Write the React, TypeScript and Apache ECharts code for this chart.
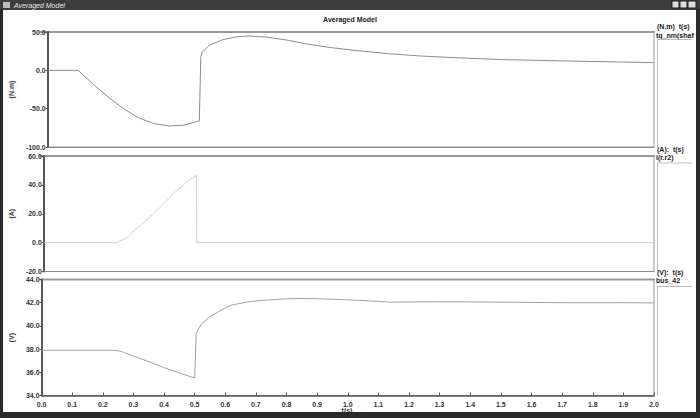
import React, { useEffect, useRef } from "react";
import * as echarts from "echarts";

// ---- data ----
const torqueT = [0, 0.1, 0.15, 0.2, 0.25, 0.3, 0.35, 0.4, 0.45, 0.49, 0.5, 0.505, 0.51, 0.533, 0.577, 0.62, 0.663, 0.718, 0.793, 0.848, 0.935, 1.01, 1.12, 1.23, 1.337, 1.5, 1.7, 1.9, 2.0];
const torqueV = [0, 0, -18, -35, -50, -62, -69.5, -72.5, -71.5, -67, -66, 18, 24, 32.6, 40, 43.5, 44.8, 43.5, 39.2, 34.8, 29.6, 26.1, 21.8, 18.7, 16.6, 14, 12.3, 10.8, 10];

const currentT = [0, 0.24, 0.27, 0.3, 0.33, 0.36, 0.4, 0.425, 0.45, 0.468, 0.5, 0.501, 2.0];
const currentV = [0, 0, 3, 9, 14.5, 20, 28.5, 34, 38.5, 42, 46.5, 0, 0];

const voltT = [0, 0.24, 0.26, 0.3, 0.36, 0.4, 0.45, 0.5, 0.505, 0.51, 0.523, 0.55, 0.6, 0.62, 0.67, 0.718, 0.8, 0.848, 0.95, 1.04, 1.14, 1.3, 1.5, 1.7, 1.9, 2.0];
const voltV = [37.9, 37.9, 37.8, 37.4, 36.83, 36.4, 35.95, 35.5, 39.3, 39.6, 40.2, 40.8, 41.55, 41.8, 42.05, 42.2, 42.33, 42.37, 42.3, 42.2, 42.05, 42.08, 42.05, 42.0, 42.0, 41.98];

const chartTitle = "Averaged Model";
const yNames = ["(N.m)", "(A)", "(V)"];
const legendHeads = ["(N.m)  t(s)", "(A):  t(s)", "(V):  t(s)"];
const legendNames = ["tq_nm(shaf", "i(r.r2)", "bus_42"];
const yRanges = [
  [-100, 50, 50],
  [-20, 60, 20],
  [34, 44, 2],
];

const zip = (a: number[], b: number[]) => a.map((t, i) => [t, b[i]]);

export default function App() {
  const ref = useRef<HTMLDivElement>(null);
  useEffect(() => {
    if (!ref.current) return;
    const chart = echarts.init(ref.current, null, { renderer: "svg" });
    const L = 39.5;
    const R = 654;
    const grids = [
      { top: 32, bottom: 147 },
      { top: 156, bottom: 271.5 },
      { top: 279.5, bottom: 395.5 },
    ];
    const labelFont = { fontSize: 7, fontWeight: "bold" as const, color: "#333", fontFamily: "Arial, Liberation Sans, sans-serif" };
    const series = [zip(torqueT, torqueV), zip(currentT, currentV), zip(voltT, voltV)];
    const colors = ["#8c8c8c", "#d0d0d0", "#a0a0a0"];
    const graphics: any[] = [
      // title bar
      { type: "rect", shape: { x: 0, y: 0, width: 700, height: 10 }, style: { fill: "#3c3c3c" }, z: 10 },
      { type: "text", x: 14, y: 5, style: { text: "Averaged Model", fill: "#e8e8e8", fontSize: 7, fontStyle: "italic", fontFamily: "Arial, sans-serif", verticalAlign: "middle" }, z: 11 },
      { type: "rect", shape: { x: 3, y: 2, width: 7, height: 6 }, style: { fill: "#bbb" }, z: 11 },
      { type: "rect", shape: { x: 672, y: 1, width: 7, height: 7 }, style: { fill: "#ddd", stroke: "#222" }, z: 11 },
      { type: "rect", shape: { x: 680, y: 1, width: 7, height: 7 }, style: { fill: "#ddd", stroke: "#222" }, z: 11 },
      { type: "rect", shape: { x: 688, y: 1, width: 8, height: 7 }, style: { fill: "#ddd", stroke: "#222" }, z: 11 },
      // window borders
      { type: "rect", shape: { x: 0, y: 9, width: 3, height: 409 }, style: { fill: "#2a2a2a" }, z: 10 },
      { type: "rect", shape: { x: 696, y: 9, width: 4, height: 409 }, style: { fill: "#2a2a2a" }, z: 10 },
      { type: "rect", shape: { x: 0, y: 412, width: 700, height: 6 }, style: { fill: "#2a2a2a" }, z: 10 },
      { type: "text", x: 350, y: 19, style: { text: chartTitle, fill: "#222", fontSize: 7, fontWeight: "bold", fontFamily: "Arial, sans-serif", align: "center", verticalAlign: "middle" } },
      { type: "text", x: 347, y: 410, style: { text: "t(s)", fill: "#333", fontSize: 7, fontWeight: "bold", fontFamily: "Arial, sans-serif", align: "center", verticalAlign: "middle" } },
    ];
    const legendY = [[26, 35, 39.5], [149, 157.5, 163], [272, 280.5, 286.5]];
    grids.forEach((g, i) => {
      graphics.push({ type: "line", shape: { x1: L, y1: g.top, x2: R + 1, y2: g.top }, style: { stroke: "#999", lineWidth: 2 } });
      graphics.push({ type: "text", x: 657, y: legendY[i][0], style: { text: legendHeads[i], fill: "#222", fontSize: 7, fontWeight: "bold", fontFamily: "Arial, sans-serif", verticalAlign: "middle" } });
      graphics.push({ type: "text", x: 656, y: legendY[i][1], style: { text: legendNames[i], fill: "#222", fontSize: 7, fontWeight: "bold", fontFamily: "Arial, sans-serif", verticalAlign: "middle" } });
      graphics.push({ type: "line", shape: { x1: 657, y1: legendY[i][2], x2: 692, y2: legendY[i][2] }, style: { stroke: "#bbb", lineWidth: 1 } });
      graphics.push({ type: "line", shape: { x1: 657.5, y1: legendY[i][2], x2: 657.5, y2: g.bottom }, style: { stroke: "#bbb", lineWidth: 1 } });
    });

    const option: any = {
      animation: false,
      backgroundColor: "#fff",
      grid: grids.map((g) => ({ left: L, width: R - L, top: g.top, height: g.bottom - g.top, show: true, borderColor: "#999", borderWidth: 1, backgroundColor: "#fff" })),
      xAxis: grids.map((_, i) => ({
        type: "value",
        gridIndex: i,
        min: 0,
        max: 2,
        interval: 0.1,
        position: "bottom",
        axisLine: { show: true, onZero: false, lineStyle: { color: i === 2 ? "#555" : "#888", width: i === 2 ? 1.5 : 1 } },
        axisTick: { show: i === 2, inside: true, length: 3, lineStyle: { color: "#555" } },
        axisLabel: { show: i === 2, ...labelFont, margin: 5, formatter: (v: number) => v.toFixed(1) },
        splitLine: { show: false },
      })),
      yAxis: grids.map((_, i) => ({
        type: "value",
        gridIndex: i,
        min: yRanges[i][0],
        max: yRanges[i][1],
        interval: yRanges[i][2],
        name: yNames[i],
        nameLocation: "middle",
        nameGap: 26,
        nameRotate: 90,
        nameTextStyle: { ...labelFont },
        axisLine: { show: true, onZero: false, lineStyle: { color: "#555", width: 2 } },
        axisTick: { show: true, length: 2, lineStyle: { color: "#555" } },
        axisLabel: { ...labelFont, margin: 2, formatter: (v: number) => v.toFixed(1) },
        splitLine: { show: false },
      })),
      series: series.map((d, i) => ({
        type: "line",
        xAxisIndex: i,
        yAxisIndex: i,
        data: d,
        showSymbol: false,
        smooth: false,
        lineStyle: { color: colors[i], width: 1 },
      })),
      graphic: graphics,
    };
    chart.setOption(option);
    return () => chart.dispose();
  }, []);
  return <div ref={ref} style={{ position: "absolute", left: 0, top: 0, width: 700, height: 418 }} />;
}
